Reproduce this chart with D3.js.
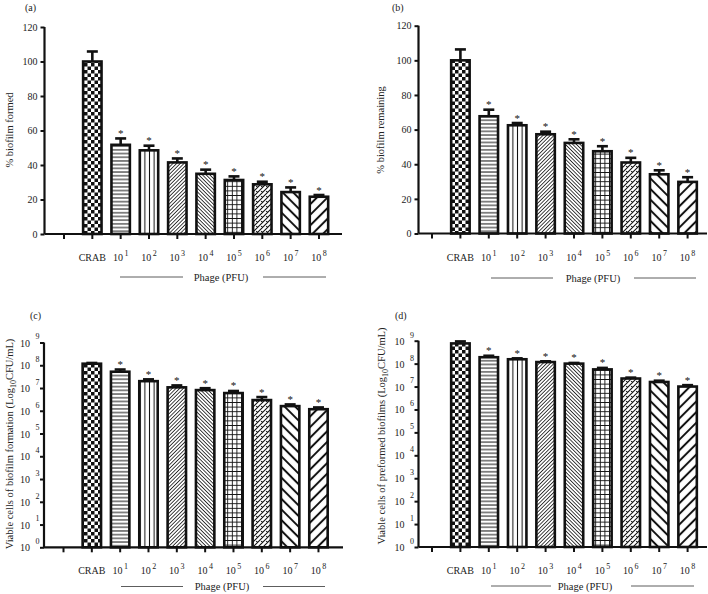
<!DOCTYPE html>
<html>
<head>
<meta charset="utf-8">
<script src="https://cdn.jsdelivr.net/npm/d3@7"></script>
<style>
  body { margin: 0; background: #fff; }
  text { font-family: "Liberation Serif", "Times New Roman", serif; fill: #222; }
</style>
</head>
<body>
<div id="chart"></div>
<script>
// categories (first slot on the axis is an empty one)
const categories = ["CRAB", "1", "2", "3", "4", "5", "6", "7", "8"];
const linearTicks = [0, 20, 40, 60, 80, 100, 120];
const logTicks = [0, 1, 2, 3, 4, 5, 6, 7, 8, 9];

// (a) % biofilm formed
const formedMean = [100, 51.7, 48.5, 41.5, 34.9, 31.3, 28.8, 24.3, 21.6];
const formedErr = [5.8, 3.7, 2.7, 2.3, 2.4, 2.1, 1.5, 2.7, 1.0];
// (b) % biofilm remaining
const remainingMean = [100, 67.7, 62.5, 57.3, 52.3, 47.5, 41.0, 34.2, 29.8];
const remainingErr = [6.3, 3.8, 1.3, 1.5, 2.1, 2.9, 2.7, 2.3, 2.7];
// (c) viable cells of biofilm formation (CFU/mL)
const formationCfu = [1.17e8, 5.2e7, 2.0e7, 1.07e7, 8.1e6, 6.0e6, 2.95e6, 1.6e6, 1.17e6];
const formationCfuErr = [9e6, 1.3e7, 4e6, 2.3e6, 1.7e6, 1.4e6, 1.05e6, 3e5, 2.3e5];
// (d) viable cells of preformed biofilms (CFU/mL)
const preformedCfu = [7.6e8, 1.9e8, 1.55e8, 1.17e8, 1.0e8, 5.6e7, 2.24e7, 1.58e7, 1.0e7];
const preformedCfuErr = [1.7e8, 3e7, 1.5e7, 9e6, 7e6, 9e6, 2.1e6, 2.2e6, 1.5e6];

const width = 708, height = 594;
const svg = d3.select("#chart").append("svg")
    .attr("width", width)
    .attr("height", height);

// fill patterns, one per bar
const defs = svg.append("defs");
function linePattern(id, size, lineW, angle) {
    const p = defs.append("pattern")
        .attr("id", id)
        .attr("patternUnits", "userSpaceOnUse")
        .attr("width", size).attr("height", size)
        .attr("patternTransform", `rotate(${angle})`);
    p.append("rect").attr("width", size).attr("height", size).attr("fill", "#fff");
    p.append("line")
        .attr("x1", size / 2).attr("x2", size / 2)
        .attr("y1", 0).attr("y2", size)
        .attr("stroke", "#111").attr("stroke-width", lineW);
    return p;
}
// checkerboard
const chk = defs.append("pattern").attr("id", "p0")
    .attr("patternUnits", "userSpaceOnUse").attr("width", 7).attr("height", 7);
chk.append("rect").attr("width", 7).attr("height", 7).attr("fill", "#fff");
chk.append("rect").attr("width", 3.5).attr("height", 3.5).attr("fill", "#111");
chk.append("rect").attr("x", 3.5).attr("y", 3.5).attr("width", 3.5).attr("height", 3.5).attr("fill", "#111");
linePattern("p1", 3.7, 1, 90);    // horizontal
linePattern("p2", 4.6, 1, 0);     // vertical
linePattern("p3", 2.6, 0.8, 45);  // fine /
linePattern("p4", 2.6, 0.8, -45); // fine \
// grid
const grid = defs.append("pattern").attr("id", "p5")
    .attr("patternUnits", "userSpaceOnUse").attr("width", 4.6).attr("height", 4.6);
grid.append("rect").attr("width", 4.6).attr("height", 4.6).attr("fill", "#fff");
grid.append("path").attr("d", "M2.3,0V4.6M0,2.3H4.6").attr("stroke", "#111").attr("stroke-width", 0.9);
// zigzag /
const zig = defs.append("pattern").attr("id", "p6")
    .attr("patternUnits", "userSpaceOnUse").attr("width", 5).attr("height", 5);
zig.append("rect").attr("width", 5).attr("height", 5).attr("fill", "#fff");
zig.append("path")
    .attr("d", "M0,5L5,0M-1,1L1,-1M4,6L6,4M1.2,1.2L2.6,2.6")
    .attr("stroke", "#111").attr("stroke-width", 1.1);
linePattern("p7", 7.5, 2, -45);   // wide \
linePattern("p8", 7.5, 2, 45);    // wide /

const panels = [
    { tag: "(a)", tagX: 25, tagY: 11, ox: 44.5, x1: 342, yb: 234, yt: 27, t0: 64, step: 28.33,
      mean: formedMean, err: formedErr, log: false, ylabel: "% biofilm formed", labX: 9, labY: 130,
      phageY: 277, line1: [120, 183], line2: [263, 326], phageX: 221 },
    { tag: "(b)", tagX: 392, tagY: 11, ox: 418.5, x1: 707, yb: 233.5, yt: 25.7, t0: 432, step: 28.4,
      mean: remainingMean, err: remainingErr, log: false, ylabel: "% biofilm remaining", labX: 380, labY: 130,
      phageY: 278, line1: [491, 553], line2: [634, 696], phageX: 593 },
    { tag: "(c)", tagX: 30, tagY: 319, ox: 44, x1: 343, yb: 547.3, yt: 342.5, t0: 63.5, step: 28.33,
      mean: formationCfu, err: formationCfuErr, log: true, ylabel: "Viable cells of biofilm formation (Log", labX: 9, labY: 444,
      phageY: 586.5, line1: [121, 183], line2: [263, 325], phageX: 222 },
    { tag: "(d)", tagX: 395, tagY: 319, ox: 418.5, x1: 707, yb: 547, yt: 340.7, t0: 432, step: 28.4,
      mean: preformedCfu, err: preformedCfuErr, log: true, ylabel: "Viable cells of preformed biofilms (Log", labX: 381, labY: 436,
      phageY: 586, line1: [491, 551], line2: [631, 694], phageX: 585 }
];

panels.forEach(drawPanel);

function drawPanel(cfg) {
    const g = svg.append("g");
    const start = cfg.t0 - cfg.step / 2;
    const x = d3.scaleBand()
        .domain(["", ...categories])
        .range([start, start + cfg.step * (categories.length + 1)])
        .paddingInner(0.35)
        .paddingOuter(0.175);
    const y = cfg.log
        ? d3.scaleLog().domain([1, 1e9]).range([cfg.yb, cfg.yt])
        : d3.scaleLinear().domain([0, 120]).range([cfg.yb, cfg.yt]);
    const base = cfg.log ? 1 : 0;

    const rows = categories.map((c, i) => ({ c, i, v: cfg.mean[i], e: cfg.err[i] }));

    // bars
    g.selectAll(".bar").data(rows).enter().append("rect")
        .attr("x", d => x(d.c))
        .attr("width", x.bandwidth())
        .attr("y", d => y(d.v))
        .attr("height", d => y(base) - y(d.v))
        .attr("fill", d => `url(#p${d.i})`)
        .attr("stroke", "#111")
        .attr("stroke-width", 2.6);

    // error bars
    const cx = d => x(d.c) + x.bandwidth() / 2;
    g.selectAll(".err").data(rows).enter().append("line")
        .attr("x1", cx).attr("x2", cx)
        .attr("y1", d => y(d.v))
        .attr("y2", d => y(d.v + d.e))
        .attr("stroke", "#111").attr("stroke-width", 2.6);
    g.selectAll(".cap").data(rows).enter().append("line")
        .attr("x1", d => cx(d) - 5.5).attr("x2", d => cx(d) + 5.5)
        .attr("y1", d => y(d.v + d.e)).attr("y2", d => y(d.v + d.e))
        .attr("stroke", "#111").attr("stroke-width", 2.6);

    // significance stars
    g.selectAll(".star").data(rows.filter(d => d.i > 0)).enter().append("text")
        .attr("x", cx)
        .attr("y", d => y(d.v + d.e) - 1.5)
        .attr("text-anchor", "middle")
        .style("font-size", "11px")
        .style("fill", "#111")
        .text("*");

    // y axis
    const yAxis = cfg.log
        ? d3.axisLeft(y).tickValues(logTicks.map(p => Math.pow(10, p))).tickFormat("")
        : d3.axisLeft(y).tickValues(linearTicks);
    const ya = g.append("g")
        .attr("transform", `translate(${cfg.ox},0)`)
        .call(yAxis.tickSize(4).tickSizeOuter(0));
    ya.select(".domain").remove();
    ya.selectAll(".tick line").attr("stroke", "#111").attr("stroke-width", 2);
    ya.selectAll(".tick text")
        .style("font-size", "10px")
        .style("font-family", "Liberation Serif, serif")
        .attr("fill", "#222");
    if (cfg.log) {
        ya.selectAll(".tick").append("text")
            .attr("x", -14).attr("dy", "0.35em")
            .attr("text-anchor", "end")
            .style("font-size", "10px")
            .text("10");
        ya.selectAll(".tick").append("text")
            .attr("x", -8.5).attr("dy", "-0.45em")
            .attr("text-anchor", "start")
            .style("font-size", "8px")
            .text(d => Math.round(Math.log10(d)));
    }
    g.append("line")
        .attr("x1", cfg.ox).attr("x2", cfg.ox)
        .attr("y1", cfg.yt).attr("y2", cfg.yb)
        .attr("stroke", "#111").attr("stroke-width", 2.2);

    // x axis
    const xa = g.append("g")
        .attr("transform", `translate(0,${cfg.yb})`)
        .call(d3.axisBottom(x).tickSize(5).tickSizeOuter(0).tickFormat(""));
    xa.select(".domain").remove();
    xa.selectAll(".tick line").attr("stroke", "#111").attr("stroke-width", 2);
    g.append("line")
        .attr("x1", cfg.ox).attr("x2", cfg.x1)
        .attr("y1", cfg.yb).attr("y2", cfg.yb)
        .attr("stroke", "#111").attr("stroke-width", 2.2);

    // category labels
    const labels = g.selectAll(".xl").data(categories).enter().append("text")
        .attr("x", c => x(c) + x.bandwidth() / 2)
        .attr("y", cfg.yb + 27)
        .attr("text-anchor", "middle")
        .style("font-size", "10px");
    labels.each(function (c) {
        const t = d3.select(this);
        if (c === "CRAB") { t.text(c); return; }
        t.append("tspan").text("10");
        t.append("tspan").attr("dx", 1.5).attr("dy", -5).style("font-size", "8px").text(c);
    });

    // Phage (PFU) bracket
    g.append("text")
        .attr("x", cfg.phageX).attr("y", cfg.phageY + 3.5)
        .attr("text-anchor", "middle")
        .style("font-size", "10.5px")
        .text("Phage (PFU)");
    [cfg.line1, cfg.line2].forEach(l => {
        g.append("line")
            .attr("x1", l[0]).attr("x2", l[1])
            .attr("y1", cfg.phageY).attr("y2", cfg.phageY)
            .attr("stroke", "#333").attr("stroke-width", 0.8);
    });

    // y label
    const yl = g.append("text")
        .attr("transform", `translate(${cfg.labX},${cfg.labY}) rotate(-90)`)
        .attr("text-anchor", "middle")
        .attr("dy", "0.35em")
        .style("font-size", "10.5px");
    if (cfg.log) {
        yl.append("tspan").text(cfg.ylabel);
        yl.append("tspan").attr("dy", 3).style("font-size", "8px").text("10");
        yl.append("tspan").attr("dy", -3).text("CFU/mL)");
    } else {
        yl.text(cfg.ylabel);
    }

    // panel tag
    g.append("text")
        .attr("x", cfg.tagX).attr("y", cfg.tagY)
        .style("font-size", "10px")
        .text(cfg.tag);
}
</script>
</body>
</html>
